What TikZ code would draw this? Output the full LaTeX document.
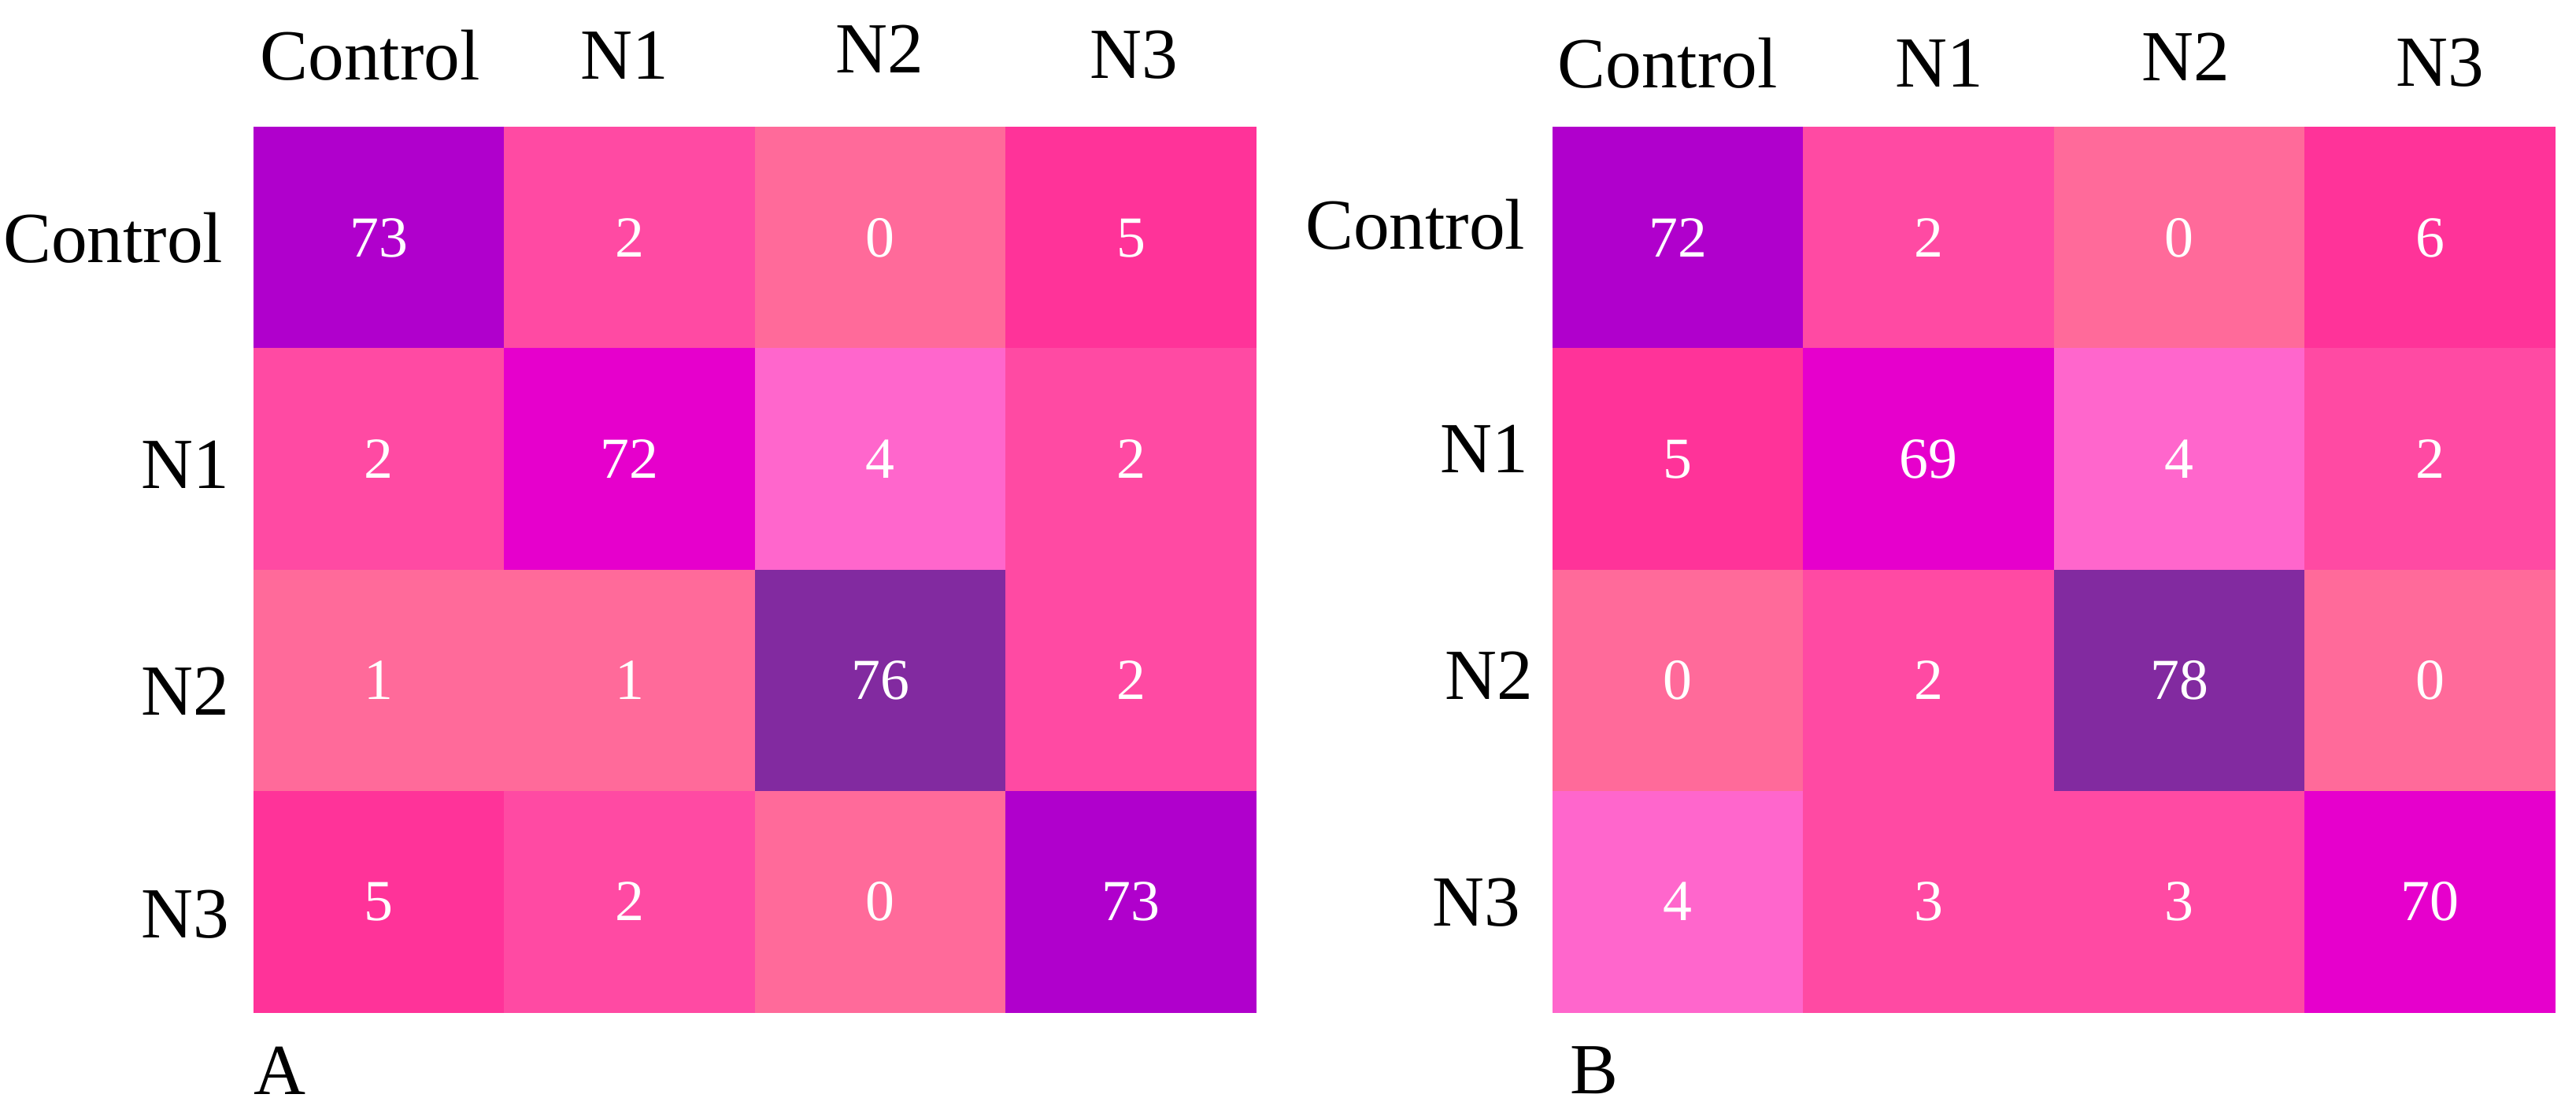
\documentclass[tikz,border=0pt]{standalone}
\usepackage{fontspec}
\setmainfont{Liberation Serif}
\definecolor{cA}{HTML}{B000CC}
\definecolor{cB}{HTML}{E600CC}
\definecolor{cC}{HTML}{822AA0}
\definecolor{cD}{HTML}{FF3399}
\definecolor{cE}{HTML}{FF4AA3}
\definecolor{cF}{HTML}{FF6A9A}
\definecolor{cG}{HTML}{FF66CC}
\tikzset{cell/.style={minimum width=3.19cm,minimum height=2.82cm,inner sep=0,text=white,font=\fontsize{21}{21}\selectfont,anchor=center},
lab/.style={font=\fontsize{26}{26}\selectfont,inner sep=0}}
\begin{document}
\begin{tikzpicture}[x=1cm,y=-1cm]
\useasboundingbox[fill=white] (0,0) rectangle (32.72,14.09);
\def\cellA#1#2#3#4{\node[cell,fill=#3] (a#1#2) at ({3.22+3.185*(#2+0.5)},{1.62+2.81*(#1+0.5)}) {#4};}
\def\cellB#1#2#3#4{\node[cell,fill=#3] (b#1#2) at ({19.72+3.185*(#2+0.5)},{1.62+2.81*(#1+0.5)}) {#4};}
\cellA00{cA}{73}\cellA01{cE}{2}\cellA02{cF}{0}\cellA03{cD}{5}
\cellA10{cE}{2}\cellA11{cB}{72}\cellA12{cG}{4}\cellA13{cE}{2}
\cellA20{cF}{1}\cellA21{cF}{1}\cellA22{cC}{76}\cellA23{cE}{2}
\cellA30{cD}{5}\cellA31{cE}{2}\cellA32{cF}{0}\cellA33{cA}{73}
\cellB00{cA}{72}\cellB01{cE}{2}\cellB02{cF}{0}\cellB03{cD}{6}
\cellB10{cD}{5}\cellB11{cB}{69}\cellB12{cG}{4}\cellB13{cE}{2}
\cellB20{cF}{0}\cellB21{cE}{2}\cellB22{cC}{78}\cellB23{cF}{0}
\cellB30{cG}{4}\cellB31{cE}{3}\cellB32{cE}{3}\cellB33{cB}{70}
% column headers
\node[lab] (ha0) at (4.70,0.70) {Control};
\node[lab] (ha1) at (7.93,0.70) {N1};
\node[lab] (ha2) at (11.17,0.62) {N2};
\node[lab] (ha3) at (14.40,0.70) {N3};
\node[lab] (hb0) at (21.18,0.80) {Control};
\node[lab] (hb1) at (24.63,0.80) {N1};
\node[lab] (hb2) at (27.76,0.72) {N2};
\node[lab] (hb3) at (30.99,0.80) {N3};
% row labels
\node[lab,anchor=east] (ra0) at (2.84,3.02) {Control};
\node[lab,anchor=east] (ra1) at (2.92,5.90) {N1};
\node[lab,anchor=east] (ra2) at (2.92,8.78) {N2};
\node[lab,anchor=east] (ra3) at (2.92,11.62) {N3};
\node[lab,anchor=east] (rb0) at (19.38,2.85) {Control};
\node[lab,anchor=east] (rb1) at (19.42,5.70) {N1};
\node[lab,anchor=east] (rb2) at (19.48,8.58) {N2};
\node[lab,anchor=east] (rb3) at (19.32,11.47) {N3};
\node[lab] (pa) at (3.55,13.60) {A};
\node[lab] (pb) at (20.25,13.60) {B};
\end{tikzpicture}
\end{document}
